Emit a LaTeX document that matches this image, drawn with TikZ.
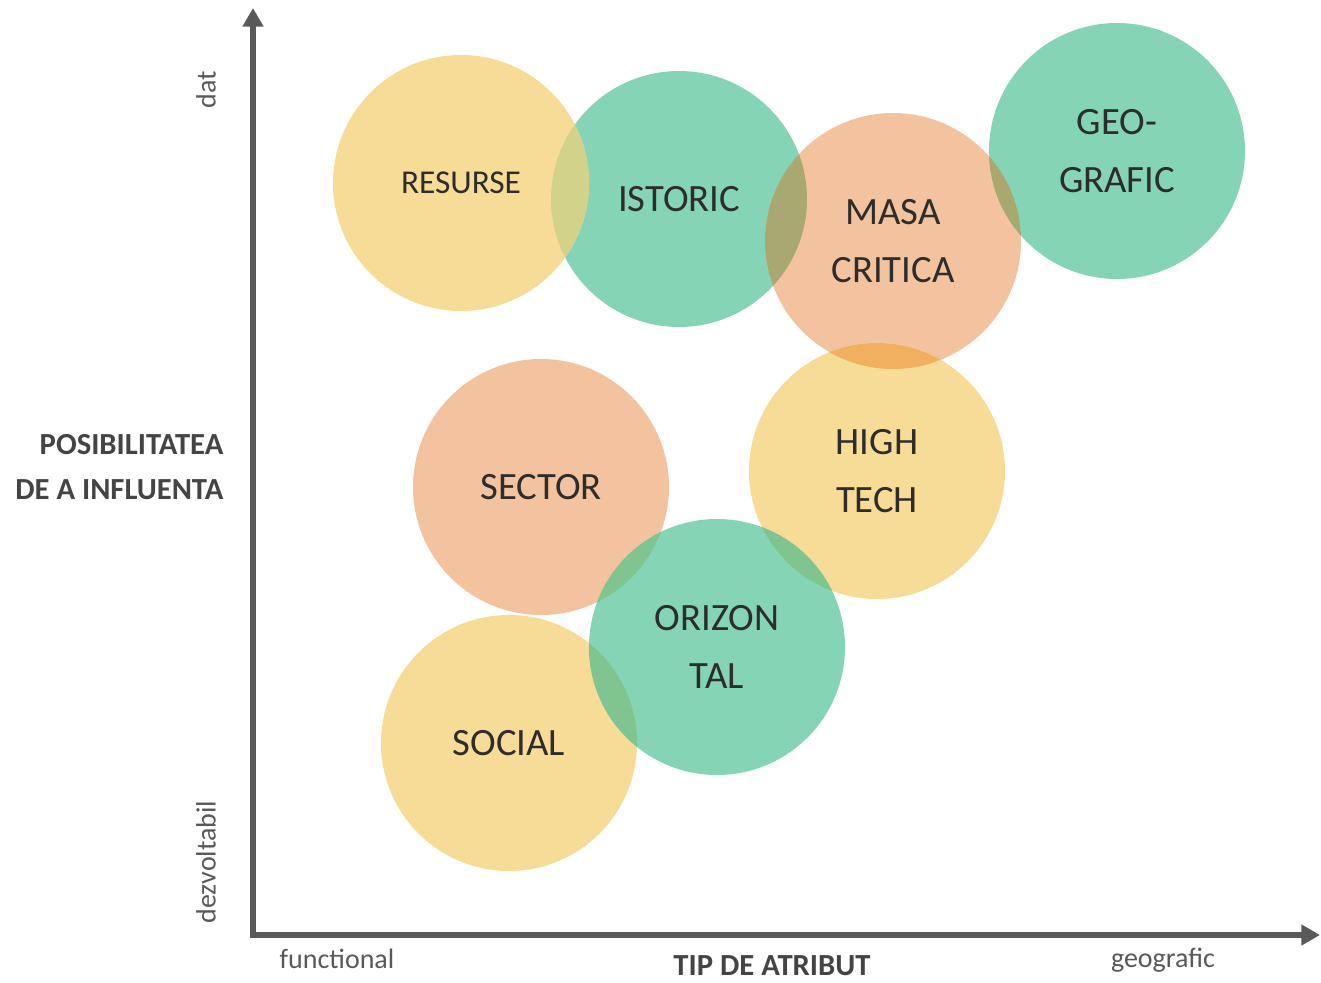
\documentclass[tikz,border=0pt]{standalone}
\usepackage{fontspec}
\setmainfont{Carlito}
\usetikzlibrary{arrows.meta}

\definecolor{bubyellow}{HTML}{F7DC97}
\definecolor{bubgreen}{HTML}{84D4B5}
\definecolor{buborange}{HTML}{F2C39E}
\definecolor{lensolive}{HTML}{A8A870}
\definecolor{lenslime}{HTML}{D2D28A}
\definecolor{lensamber}{HTML}{F0B060}
\definecolor{lensgreen}{HTML}{80C590}
\definecolor{axisgray}{HTML}{595959}
\definecolor{namegray}{HTML}{444444}
\definecolor{inkgray}{HTML}{2D2D2D}

% paint the part of circle #2 that lies inside circle #1
\newcommand{\bublens}[3]{\begin{scope}\clip (#1) circle (96pt); \fill[#3] (#2) circle (96pt);\end{scope}}

\begin{document}
\begin{tikzpicture}[x=0.75pt,y=-0.75pt,
    bubble/.style={circle,minimum size=192pt,inner sep=0pt,align=center,text=inkgray,font=\fontsize{29}{43}\selectfont},
    yellowbub/.style={bubble,fill=bubyellow},
    greenbub/.style={bubble,fill=bubgreen},
    orangebub/.style={bubble,fill=buborange},
    axis/.style={draw=axisgray,line width=4.5pt,{Triangle[width=15pt,length=14pt]}-{Triangle[width=15pt,length=14pt]}},
    axisname/.style={font=\fontsize{23}{34}\selectfont\bfseries,text=namegray},
    axisend/.style={font=\fontsize{21}{25}\selectfont,text=axisgray}]

\useasboundingbox (0,0) rectangle (1321,982);

% axes
\coordinate (origin) at (253,935);
\coordinate (ytip) at (253,8);
\coordinate (xtip) at (1320,935);
\draw[axis] (ytip) -- (origin) -- (xtip);

\node[axisname,align=right,anchor=east] (yname) at (228,467) {POSIBILITATEA\\DE A INFLUENTA};
\node[axisname,inner sep=1pt] (xname) at (772,966) {TIP DE ATRIBUT};
\node[axisend,rotate=90] (ytop) at (206,90) {dat};
\node[axisend,rotate=90] (ybottom) at (206,862) {dezvoltabil};
\node[axisend] (xleft) at (337,959) {functional};
\node[axisend] (xright) at (1163,960) {geografic};

% bubbles
\node[greenbub] (istoric) at (679,199) {ISTORIC};
\node[yellowbub,font=\fontsize{25}{43}\selectfont] (resurse) at (461,183) {RESURSE};
\node[orangebub] (masa) at (893,241) {MASA\\CRITICA};
\node[greenbub] (geo) at (1117,151) {GEO-\\GRAFIC};
\node[yellowbub] (hightech) at (877,471) {HIGH\\TECH};
\node[orangebub] (sector) at (541,487) {SECTOR};
\node[yellowbub] (social) at (509,743) {SOCIAL};
\node[greenbub] (orizontal) at (717,647) {ORIZON\\TAL};

% overlaps
\bublens{resurse}{istoric}{lenslime}
\bublens{istoric}{masa}{lensolive}
\bublens{masa}{geo}{lensolive}
\bublens{masa}{hightech}{lensamber}
\bublens{sector}{orizontal}{lensgreen}
\bublens{hightech}{orizontal}{lensgreen}
\bublens{social}{orizontal}{lensgreen}
\end{tikzpicture}
\end{document}
